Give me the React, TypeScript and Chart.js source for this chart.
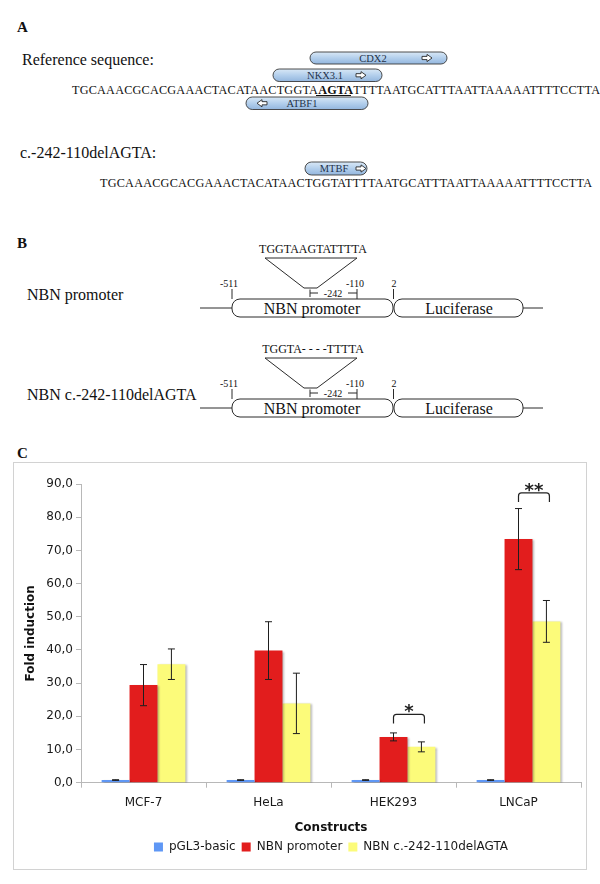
import React, { useEffect, useRef } from 'react';
import { Chart, registerables } from 'chart.js';

Chart.register(...registerables);

// ---------- Panel C data ----------
const categories = ['MCF-7', 'HeLa', 'HEK293', 'LNCaP'];
const seriesNames = ['pGL3-basic', 'NBN promoter', 'NBN c.-242-110delAGTA'];
const seriesColors = ['#5f97f5', '#e21d1d', '#fcfb7a'];
const pgl3Basic = [0.8, 0.8, 0.8, 0.8];
const pgl3BasicErr = [0.1, 0.1, 0.1, 0.1];
const nbnPromoter = [29.4, 39.8, 13.8, 73.4];
const nbnPromoterErr = [6.2, 8.7, 1.2, 9.2];
const nbnDel = [35.7, 23.9, 10.8, 48.6];
const nbnDelErr = [4.6, 9.1, 1.5, 6.3];
const yMin = 0;
const yMax = 90;
const yStep = 10;
const sigCategory = [2, 3];
const sigLabel = ['*', '**'];
const sigTop = [20.6, 87.3];
const sigLeg = [17.8, 84.6];

const SANS = "'DejaVu Sans', Verdana, sans-serif";
const SERIF = "'Liberation Serif', 'Times New Roman', serif";

const shadowErrorPlugin = {
  id: 'shadowErr',
  beforeDatasetsDraw(chart: any) {
    const ctx = chart.ctx;
    ctx.save();
    ctx.shadowColor = 'rgba(0,0,0,0.28)';
    ctx.shadowOffsetX = 2;
    ctx.shadowOffsetY = 1;
    ctx.shadowBlur = 2;
  },
  afterDatasetsDraw(chart: any) {
    const ctx = chart.ctx;
    ctx.restore();
    const ys = chart.scales.y;
    chart.data.datasets.forEach((ds: any, di: number) => {
      const meta = chart.getDatasetMeta(di);
      ds.data.forEach((v: number, i: number) => {
        const e = ds.errors[i];
        const x = meta.data[i].x;
        const yt = ys.getPixelForValue(v + e);
        const yb = ys.getPixelForValue(v - e);
        ctx.save();
        ctx.strokeStyle = '#1e1e1e';
        ctx.lineWidth = 1;
        ctx.beginPath();
        ctx.moveTo(x, yt);
        ctx.lineTo(x, yb);
        ctx.moveTo(x - 3.5, yt);
        ctx.lineTo(x + 3.5, yt);
        ctx.moveTo(x - 3.5, yb);
        ctx.lineTo(x + 3.5, yb);
        ctx.stroke();
        ctx.restore();
      });
    });
  },
};

const bracketPlugin = {
  id: 'sigBrackets',
  afterDraw(chart: any) {
    const ctx = chart.ctx;
    const ys = chart.scales.y;
    const m1 = chart.getDatasetMeta(1);
    const m2 = chart.getDatasetMeta(2);
    sigCategory.forEach((ci, k) => {
      const x1 = m1.data[ci].x;
      const x2 = m2.data[ci].x + 3;
      const yt = ys.getPixelForValue(sigTop[k]);
      const yl = ys.getPixelForValue(sigLeg[k]);
      ctx.save();
      ctx.strokeStyle = '#222';
      ctx.lineWidth = 1.2;
      ctx.beginPath();
      ctx.moveTo(x1, yl);
      ctx.arcTo(x1, yt, x1 + 5, yt, 3);
      ctx.arcTo(x2, yt, x2, yl, 3);
      ctx.lineTo(x2, yl);
      ctx.stroke();
      ctx.font = `bold 18px ${SANS}`;
      ctx.fillStyle = '#222';
      ctx.textAlign = 'center';
      ctx.textBaseline = 'alphabetic';
      ctx.fillText(sigLabel[k], (x1 + x2) / 2, yt + 3);
      ctx.restore();
    });
  },
};

const legendShiftPlugin = {
  id: 'legendShift',
  afterLayout(chart: any) {
    const lg = chart.legend;
    if (!lg) return;
    const ca = chart.chartArea;
    const shift = (ca.left + ca.right) / 2 - (lg.left + lg.right) / 2;
    lg.left += shift;
    lg.right += shift;
  },
};

function BarChart() {
  const ref = useRef<HTMLCanvasElement | null>(null);
  useEffect(() => {
    if (!ref.current) return;
    const tickFont = { family: SANS, size: 12 };
    const chart = new Chart(ref.current, {
      type: 'bar',
      data: {
        labels: categories,
        datasets: [
          { label: seriesNames[0], data: pgl3Basic, backgroundColor: seriesColors[0], errors: pgl3BasicErr } as any,
          { label: seriesNames[1], data: nbnPromoter, backgroundColor: seriesColors[1], errors: nbnPromoterErr } as any,
          { label: seriesNames[2], data: nbnDel, backgroundColor: seriesColors[2], errors: nbnDelErr } as any,
        ],
      },
      options: {
        animation: false,
        responsive: false,
        devicePixelRatio: 1,
        layout: { padding: { top: 21, right: 5, bottom: 6, left: 0 } },
        datasets: { bar: { categoryPercentage: 0.67, barPercentage: 1 } },
        plugins: {
          legend: {
            position: 'bottom',
            labels: {
              boxWidth: 9,
              boxHeight: 9,
              padding: 6,
              color: '#1a1a1a',
              font: tickFont,
            },
          },
          tooltip: { enabled: false },
        },
        scales: {
          x: {
            grid: { display: true, drawOnChartArea: false, tickLength: 5, color: '#b8b8b8', offset: true },
            border: { color: '#b8b8b8' },
            ticks: { color: '#1a1a1a', font: tickFont, padding: 8 },
            title: {
              display: true,
              text: 'Constructs',
              color: '#111',
              font: { family: SANS, size: 12, weight: 'bold' },
              padding: { top: 0, bottom: 0 },
            },
            afterFit: (s: any) => {
              s.height = 52.3;
            },
          },
          y: {
            min: yMin,
            max: yMax,
            grid: { drawOnChartArea: false, tickLength: 5, color: '#b8b8b8' },
            border: { color: '#b8b8b8' },
            ticks: {
              stepSize: yStep,
              color: '#1a1a1a',
              font: tickFont,
              padding: 3,
              callback: (v: any) => Number(v).toFixed(1).replace('.', ','),
            },
            title: {
              display: true,
              text: 'Fold induction',
              color: '#111',
              font: { family: SANS, size: 12, weight: 'bold' },
              padding: { top: 10, bottom: 0 },
            },
            afterFit: (s: any) => {
              s.width = 67;
            },
          },
        },
      } as any,
      plugins: [shadowErrorPlugin, bracketPlugin, legendShiftPlugin] as any,
    });
    return () => chart.destroy();
  }, []);
  return (
    <canvas
      ref={ref}
      width={572}
      height={406}
      style={{ display: 'block', width: 572, height: 406 }}
    />
  );
}

function Arrow({ x, y, dir }: { x: number; y: number; dir: number }) {
  const d = dir;
  const p = `M${x - 5 * d},${y - 1.6} H${x} V${y - 3.6} L${x + 5 * d},${y} L${x},${y + 3.6} V${y + 1.6} H${x - 5 * d} Z`;
  return <path d={p} fill="#fff" stroke="#2a2a2a" strokeWidth={0.9} />;
}

function Pill(props: { x: number; y: number; w: number; h: number; label: string; tx: number; ax: number; dir: number }) {
  const { x, y, w, h, label, tx, ax, dir } = props;
  return (
    <g>
      <rect x={x} y={y} width={w} height={h} rx={h / 2} ry={h / 2} fill="url(#pillGrad)" stroke="#3a3a3a" strokeWidth={0.9} />
      <text x={tx} y={y + h / 2 + 3.6} fontSize={10.5} textAnchor="middle" fill="#24324a" fontFamily={SERIF}>
        {label}
      </text>
      <Arrow x={ax} y={y + h / 2} dir={dir} />
    </g>
  );
}

function Construct({ dy, label, insert }: { dy: number; label: string; insert: string }) {
  const s = '#2b2b2b';
  return (
    <g fontFamily={SERIF} fill="#111">
      <text x={27} y={300 + dy} fontSize={16}>{label}</text>
      <text x={313} y={253 + dy} fontSize={12} textAnchor="middle">{insert}</text>
      <polygon
        points={`265,${258 + dy} 357,${258 + dy} 317,${288 + dy} 304,${288 + dy}`}
        fill="none"
        stroke={s}
        strokeWidth={1}
      />
      <line x1={200} y1={308 + dy} x2={232} y2={308 + dy} stroke={s} strokeWidth={1} />
      <line x1={523} y1={308 + dy} x2={543} y2={308 + dy} stroke={s} strokeWidth={1} />
      <rect x={232} y={299 + dy} width={161} height={18} rx={8} ry={8} fill="#fff" stroke={s} strokeWidth={1} />
      <rect x={394} y={299 + dy} width={129} height={18} rx={8} ry={8} fill="#fff" stroke={s} strokeWidth={1} />
      <text x={312} y={313.5 + dy} fontSize={16} textAnchor="middle">NBN promoter</text>
      <text x={459} y={313.5 + dy} fontSize={16} textAnchor="middle">Luciferase</text>
      <line x1={232} y1={289 + dy} x2={232} y2={299 + dy} stroke={s} strokeWidth={1} />
      <line x1={393.5} y1={289 + dy} x2={393.5} y2={299 + dy} stroke={s} strokeWidth={1} />
      <line x1={357} y1={289 + dy} x2={357} y2={299 + dy} stroke={s} strokeWidth={1} />
      <text x={229} y={286.5 + dy} fontSize={10} textAnchor="middle">-511</text>
      <text x={355} y={286.5 + dy} fontSize={10} textAnchor="middle">-110</text>
      <text x={394} y={286.5 + dy} fontSize={10} textAnchor="middle">2</text>
      <line x1={310} y1={289.5 + dy} x2={310} y2={297 + dy} stroke={s} strokeWidth={1} />
      <line x1={310} y1={293 + dy} x2={318} y2={293 + dy} stroke={s} strokeWidth={1} />
      <text x={333} y={296.5 + dy} fontSize={10} textAnchor="middle">-242</text>
      <line x1={348} y1={293 + dy} x2={357} y2={293 + dy} stroke={s} strokeWidth={1} />
    </g>
  );
}

function Diagrams() {
  return (
    <svg width={600} height={460} style={{ position: 'absolute', left: 0, top: 0 }}>
      <defs>
        <linearGradient id="pillGrad" x1="0" y1="0" x2="0" y2="1">
          <stop offset="0" stopColor="#d9e8f6" />
          <stop offset="0.5" stopColor="#b3cfec" />
          <stop offset="1" stopColor="#93b6de" />
        </linearGradient>
      </defs>
      <g fontFamily={SERIF} fill="#111">
        <text x={17} y={32} fontSize={15} fontWeight="bold">A</text>
        <text x={22} y={65} fontSize={16}>Reference sequence:</text>
        <Pill x={310} y={52} w={137} h={12} label="CDX2" tx={373} ax={427} dir={1} />
        <Pill x={273} y={69} w={109} h={12.5} label="NKX3.1" tx={325} ax={361} dir={1} />
        <text x={72} y={93.5} fontSize={12.2} textLength={528} lengthAdjust="spacing">
          TGCAAACGCACGAAACTACATAACTGGTA
          <tspan fontWeight="bold">AGTA</tspan>
          TTTTAATGCATTTAATTAAAAATTTTCCTTA
        </text>
        <line x1={316} y1={95.5} x2={351} y2={95.5} stroke="#111" strokeWidth={1.2} />
        <Pill x={246} y={97} w={122} h={12.5} label="ATBF1" tx={302} ax={262} dir={-1} />
        <text x={20} y={158} fontSize={16}>c.-242-110delAGTA:</text>
        <Pill x={305} y={162} w={62} h={13} label="MTBF" tx={334} ax={361} dir={1} />
        <text x={100} y={187} fontSize={12.2} textLength={492} lengthAdjust="spacing">
          TGCAAACGCACGAAACTACATAACTGGTATTTTAATGCATTTAATTAAAAATTTTCCTTA
        </text>
        <text x={17} y={248} fontSize={15} fontWeight="bold">B</text>
        <text x={17} y={458} fontSize={15} fontWeight="bold">C</text>
      </g>
      <Construct dy={0} label="NBN promoter" insert="TGGTAAGTATTTTA" />
      <Construct dy={100} label="NBN c.-242-110delAGTA" insert="TGGTA- - - -TTTTA" />
    </svg>
  );
}

export default function App() {
  return (
    <div
      style={{
        position: 'absolute',
        left: 0,
        top: 0,
        width: 600,
        height: 884,
        background: '#fff',
        overflow: 'hidden',
      }}
    >
      <Diagrams />
      <div
        style={{
          position: 'absolute',
          left: 13,
          top: 462,
          width: 572,
          height: 406,
          border: '1px solid #d2d2d2',
        }}
      >
        <BarChart />
      </div>
    </div>
  );
}
